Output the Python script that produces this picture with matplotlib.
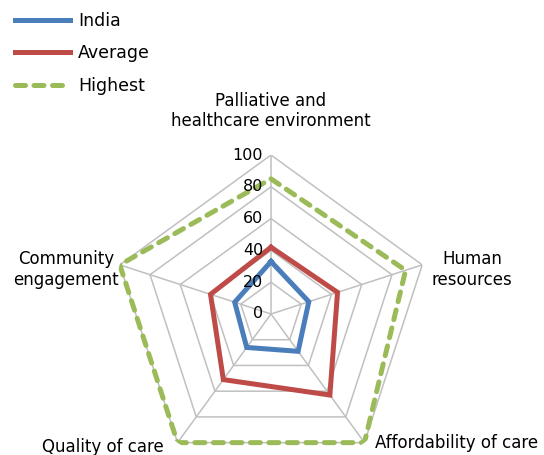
import numpy as np
import matplotlib
matplotlib.use("Agg")
import matplotlib.pyplot as plt

# categories clockwise from the top
categories = ["Palliative and\nhealthcare environment", "Human\nresources",
              "Affordability of care", "Quality of care", "Community\nengagement"]
india = [33, 25, 29, 26, 24]
average = [42, 44, 63, 51, 40]
highest = [85, 89, 100, 100, 100]
ticks = [0, 20, 40, 60, 80, 100]

plt.rcParams['font.family'] = ['DejaVu Sans']

fig = plt.figure(figsize=(5.44, 4.55), dpi=100)
# polar axes centred at about (271, 314) px, radius 159 px
ax = fig.add_axes([(271 - 159) / 544, (141 - 159) / 455, 318 / 544, 318 / 455],
                  projection='polar')
ax.set_theta_offset(np.pi / 2)
ax.set_theta_direction(-1)
ax.set_ylim(0, 100)
ax.axis('off')

n = len(categories)
theta = np.linspace(0, 2 * np.pi, n, endpoint=False)
th = np.append(theta, theta[0])

grid_c = '#c0c0c0'
for t in ticks[1:]:
    ax.plot(th, [t] * (n + 1), color=grid_c, lw=1.1, zorder=1)
for a in theta:
    ax.plot([a, a], [0, 100], color=grid_c, lw=1.1, zorder=1)

def close(v):
    return v + v[:1]

l1, = ax.plot(th, close(india), color='#4a7ebb', lw=3.6, zorder=3,
              solid_joinstyle='miter')
l2, = ax.plot(th, close(average), color='#be4b48', lw=3.6, zorder=3,
              solid_joinstyle='miter')
l3, = ax.plot(th, close(highest), color='#9bbb59', lw=3.6, zorder=2,
              linestyle=(0, (2.0, 1.7)), dash_capstyle='round')

for t in ticks:
    ax.annotate(str(t), (0, t), xytext=(-8, 0), textcoords='offset pixels',
                ha='right', va='center', fontsize=11.5, zorder=4)

offsets = [((0, 44), 'center'), ((50, -5), 'center'), ((11, 0), 'left'),
           ((-14, -4), 'right'), ((-54, -5), 'center')]
for a, lab, (off, ha) in zip(theta, categories, offsets):
    ax.annotate(lab, (a, 100), xytext=off, textcoords='offset pixels',
                ha=ha, va='center', fontsize=12, multialignment='center',
                linespacing=1.2, annotation_clip=False)

fig.legend([l1, l2, l3], ["India", "Average", "Highest"], loc='upper left',
           bbox_to_anchor=(0.005, 1.0), frameon=False, fontsize=12.5,
           handlelength=3.2, labelspacing=0.82, handletextpad=0.45,
           borderaxespad=0.3)

fig.savefig('out.png', dpi=100)
